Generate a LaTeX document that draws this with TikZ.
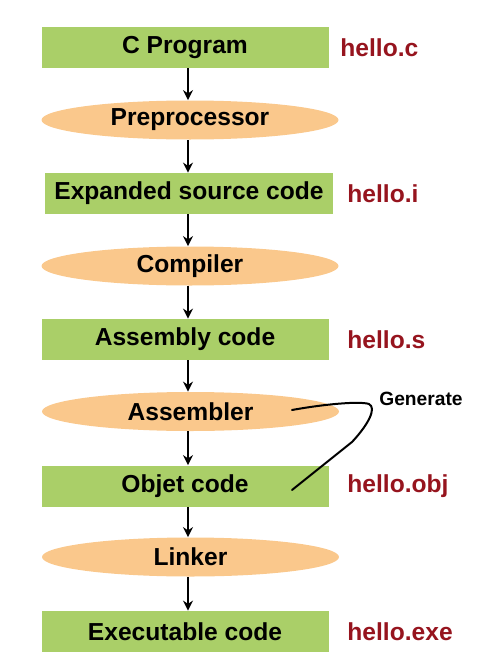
\documentclass[tikz,border=0pt]{standalone}
\usepackage{fontspec}
\setmainfont{Liberation Sans}
\definecolor{boxgreen}{RGB}{170, 207, 104}
\definecolor{stageorange}{RGB}{250, 200, 140}
\definecolor{filered}{RGB}{150, 20, 30}
\usetikzlibrary{shapes.geometric, arrows.meta, positioning}

\begin{document}
\begin{tikzpicture}[x=0.5pt, y=-0.5pt,
    codebox/.style={rectangle, fill=boxgreen, minimum width=143.5pt, minimum height=20.5pt, inner sep=0pt, font=\fontsize{12.3}{14}\selectfont\bfseries},
    stage/.style={ellipse, fill=stageorange, minimum width=148.5pt, minimum height=19.5pt, inner sep=0pt, font=\fontsize{12.3}{14}\selectfont\bfseries},
    filename/.style={anchor=west, text=filered, inner sep=0pt, font=\fontsize{12.3}{14}\selectfont\bfseries},
    flow/.style={-{Stealth[length=5pt, width=5pt]}, line width=1pt}]
  \useasboundingbox (0,0) rectangle (488,664);

  % Boxes and stages
  \node[codebox] (cprog) at (185, 47.5) {C Program};
  \node[stage] (pre) at (190, 120) {Preprocessor};
  \node[codebox, minimum width=144pt] (expand) at (189, 193.5) {Expanded source code};
  \node[stage] (comp) at (190, 266) {Compiler};
  \node[codebox] (asmcode) at (185, 339.5) {Assembly code};
  \node[stage] (asm) at (190.5, 411.5) {Assembler};
  \node[codebox] (obj) at (185, 486) {Objet code};
  \node[stage] (link) at (190.5, 557) {Linker};
  \node[codebox] (exe) at (185, 631.5) {Executable code};

  % File names
  \node[filename] (fc) at (340, 47.5) {hello.c};
  \node[filename] (fi) at (347, 193.5) {hello.i};
  \node[filename] (fs) at (347, 339.5) {hello.s};
  \node[filename] (fobj) at (347, 486) {hello.obj};
  \node[filename] (fexe) at (347, 631.5) {hello.exe};

  % Arrows
  \draw[flow] (cprog.south -| 188,0) -- (pre.north -| 188,0);
  \draw[flow] (pre.south -| 188,0) -- (expand.north -| 188,0);
  \draw[flow] (expand.south -| 188,0) -- (comp.north -| 188,0);
  \draw[flow] (comp.south -| 188,0) -- (asmcode.north -| 188,0);
  \draw[flow] (asmcode.south -| 188,0) -- (asm.north -| 188,0);
  \draw[flow] (asm.south -| 188,0) -- (obj.north -| 188,0);
  \draw[flow] (obj.south -| 188,0) -- (link.north -| 188,0);
  \draw[flow] (link.south -| 188,0) -- (exe.north -| 188,0);

  % Hand-drawn note
  \coordinate (genfrom) at (292, 410);
  \coordinate (gento) at (292, 490);
  \draw[line width=1pt, line cap=round, line join=round] (genfrom) .. controls (325, 404) and (360, 401) .. (369, 404)
    .. controls (377, 408) and (368, 425) .. (352, 442) -- (gento);
  \node[font=\fontsize{9.6}{11}\selectfont\bfseries] (gen) at (421, 399) {Generate};
\end{tikzpicture}
\end{document}
